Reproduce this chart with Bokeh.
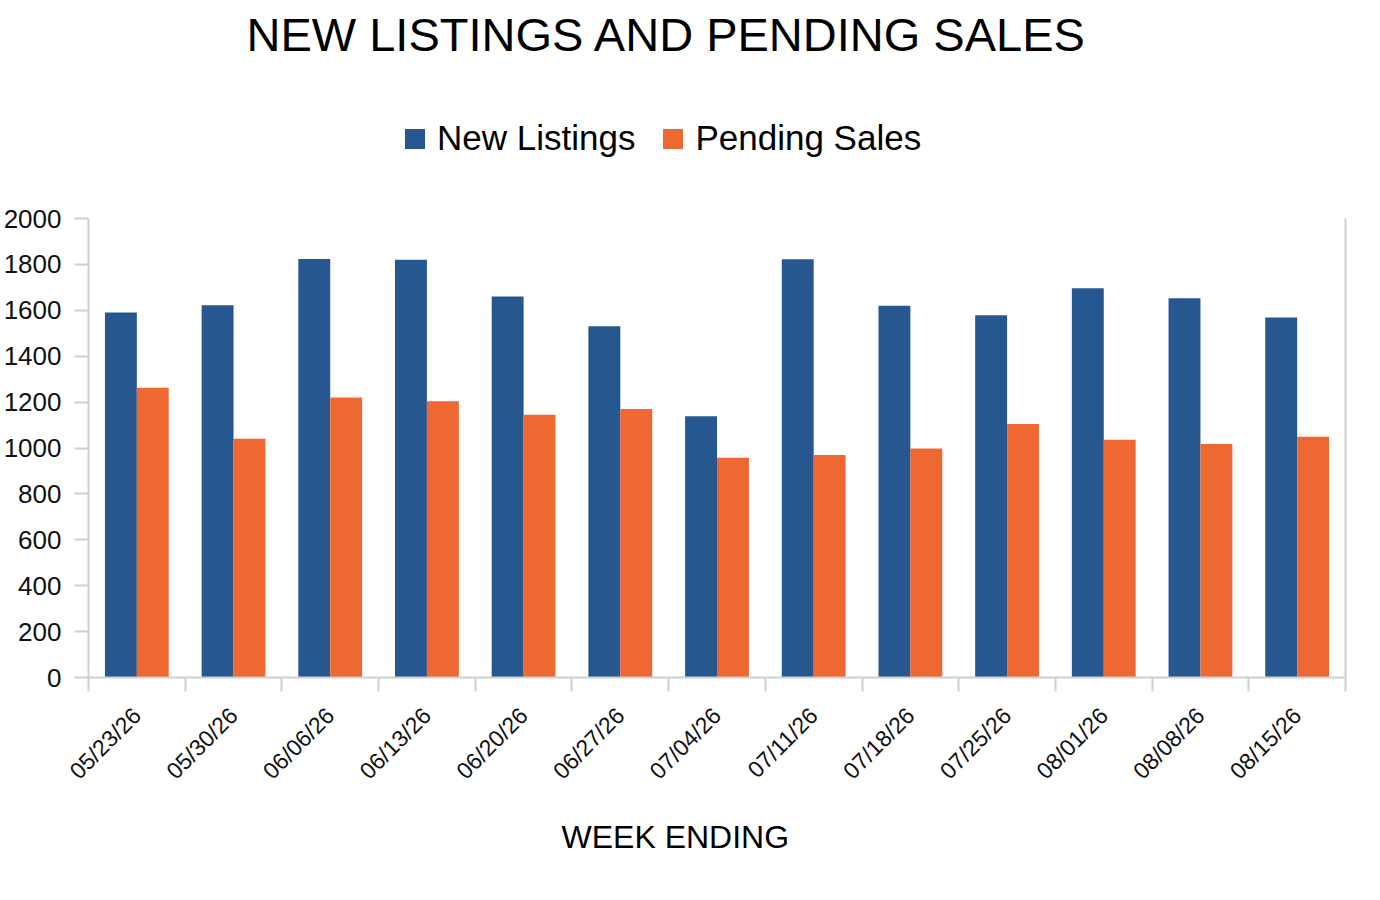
from bokeh.plotting import figure
from bokeh.models import (ColumnDataSource, Range1d, FixedTicker, Legend, LegendItem,
                          LinearAxis, Title)
from bokeh.transform import dodge
from bokeh.embed import file_html
from bokeh.resources import INLINE

weeks = ["05/23/26", "05/30/26", "06/06/26", "06/13/26", "06/20/26", "06/27/26", "07/04/26",
         "07/11/26", "07/18/26", "07/25/26", "08/01/26", "08/08/26", "08/15/26"]
new_listings = [1590, 1622, 1824, 1820, 1660, 1530, 1138, 1822, 1620, 1578, 1696, 1652, 1569]
pending_sales = [1262, 1040, 1220, 1204, 1145, 1170, 957, 969, 998, 1105, 1036, 1017, 1049]
y_ticks = [0, 200, 400, 600, 800, 1000, 1200, 1400, 1600, 1800, 2000]

BLUE = "#26588F"
ORANGE = "#EE6931"
GRID = "#CFCFCF"
FONT = "Liberation Sans"

# layout: value axis 0..2000 occupies the lower 459 px of the frame,
# the upper part of the frame holds the legend
FRAME_H = 612
AXIS_PX = 459
Y_MAX = 2000 * FRAME_H / AXIS_PX

centers = [i + 0.5 for i in range(len(weeks))]
src = ColumnDataSource(dict(x=centers, week=weeks, nl=new_listings, ps=pending_sales))

p = figure(frame_width=1257, frame_height=FRAME_H, output_backend="svg", toolbar_location=None,
           x_range=Range1d(0, len(weeks)), y_range=Range1d(0, Y_MAX),
           min_border_left=87, min_border_right=15, min_border_top=0, min_border_bottom=10,
           x_axis_type=None, y_axis_type=None)

p.title.text = "NEW LISTINGS AND PENDING SALES"
p.title.align = "left"
p.title.offset = 158
p.title.standoff = 10
p.title.text_font = FONT
p.title.text_font_size = "47px"
p.title.text_font_style = "normal"
p.title.text_color = "#000000"

r1 = p.vbar(x=dodge("x", -0.165, range=p.x_range), top="nl", width=0.33, source=src,
            fill_color=BLUE, line_color=None)
r2 = p.vbar(x=dodge("x", 0.165, range=p.x_range), top="ps", width=0.33, source=src,
            fill_color=ORANGE, line_color=None)

xaxis = LinearAxis(ticker=FixedTicker(ticks=centers, minor_ticks=list(range(len(weeks) + 1))))
xaxis.major_label_overrides = {c: w for c, w in zip(centers, weeks)}
xaxis.major_label_orientation = 0.785398
xaxis.major_tick_line_color = None
xaxis.major_tick_out = 14
xaxis.major_tick_in = 0
xaxis.minor_tick_out = 14
xaxis.minor_tick_in = 0
xaxis.minor_tick_line_color = GRID
xaxis.minor_tick_line_width = 2
xaxis.axis_line_color = GRID
xaxis.axis_line_width = 2
xaxis.major_label_text_font = FONT
xaxis.major_label_text_font_size = "23px"
xaxis.major_label_text_color = "#111111"
xaxis.major_label_standoff = 20
p.add_layout(xaxis, "below")

xlabel = Title(text="WEEK ENDING", align="left", offset=473, standoff=40,
               text_font=FONT, text_font_size="32px", text_font_style="normal",
               text_color="#000000")
p.add_layout(xlabel, "below")

yaxis = LinearAxis(ticker=FixedTicker(ticks=y_ticks), bounds=(0, 2000))
yaxis.minor_tick_line_color = None
yaxis.major_tick_out = 14
yaxis.major_tick_in = 0
yaxis.major_tick_line_color = GRID
yaxis.major_tick_line_width = 2
yaxis.axis_line_color = GRID
yaxis.axis_line_width = 2
yaxis.major_label_text_font = FONT
yaxis.major_label_text_font_size = "26px"
yaxis.major_label_text_color = "#111111"
yaxis.major_label_standoff = 13
p.add_layout(yaxis, "left")

right_border = LinearAxis(ticker=FixedTicker(ticks=[]), bounds=(0, 2000))
right_border.major_tick_line_color = None
right_border.minor_tick_line_color = None
right_border.major_label_text_font_size = "0px"
right_border.axis_line_color = GRID
right_border.axis_line_width = 2
p.add_layout(right_border, "right")

p.xgrid.grid_line_color = None
p.ygrid.grid_line_color = GRID
p.ygrid.grid_line_width = 2
p.ygrid.ticker = FixedTicker(ticks=y_ticks)
p.outline_line_color = None

legend = Legend(items=[LegendItem(label="New Listings", renderers=[r1]),
                       LegendItem(label="Pending Sales", renderers=[r2])],
                orientation="horizontal", location=(314, 519))
legend.label_text_font = FONT
legend.label_text_font_size = "35px"
legend.label_text_color = "#000000"
legend.glyph_width = 25
legend.glyph_height = 25
legend.label_standoff = 10
legend.spacing = 25
legend.border_line_color = None
legend.background_fill_alpha = 0
legend.padding = 0
legend.margin = 0
p.add_layout(legend, "center")

open("out.html", "w").write(file_html(p, INLINE))
